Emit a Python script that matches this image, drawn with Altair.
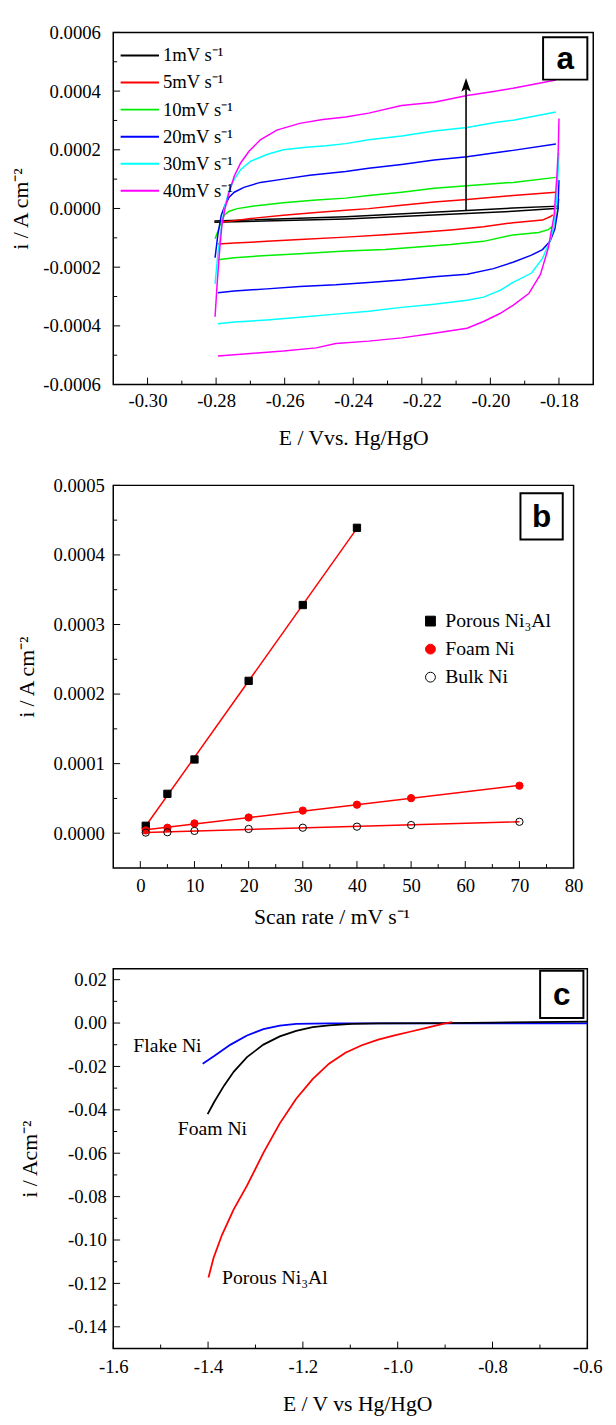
import altair as alt
import pandas as pd

FONT = "Liberation Serif"
MINUS = "\u2212"

# ---------------- Panel a : cyclic voltammograms ----------------
rates = ["1mV s⁻¹", "5mV s⁻¹", "10mV s⁻¹", "20mV s⁻¹", "30mV s⁻¹", "40mV s⁻¹"]
rate_colors = ["#000000", "#FF0000", "#00EE00", "#0000FF", "#00FFFF", "#FF00FF"]

cv1_up_E = [-0.2805, -0.2422, -0.1934, -0.1800]
cv1_up_i = [-0.0000429, -0.0000282, 0.0000017, 0.0000080]
cv1_dn_E = [-0.1800, -0.1934, -0.2422, -0.2805]
cv1_dn_i = [0.0000010, -0.0000095, -0.0000360, -0.0000470]

cv5_up_E = [-0.2785, -0.2699, -0.2604, -0.2508, -0.2422, -0.2355, -0.2259, -0.2164, -0.2068, -0.1934, -0.1809]
cv5_up_i = [-0.0000473, -0.0000340, -0.0000228, -0.0000139, -0.0000060, -0.0000005, 0.0000107, 0.0000219,
            0.0000308, 0.0000442, 0.0000554]
cv5_dn_E = [-0.1818, -0.1826, -0.1848, -0.1934, -0.2020, -0.2116, -0.2212, -0.2307, -0.2422, -0.2556, -0.2652,
            -0.2747, -0.2795]
cv5_dn_i = [-0.0000220, -0.0000283, -0.0000396, -0.0000485, -0.0000619, -0.0000730, -0.0000819, -0.0000898,
            -0.0000976, -0.000106, -0.000112, -0.000118, -0.000121]

cv10_up_E = [-0.2803, -0.2795, -0.2785, -0.2776, -0.2762, -0.2738, -0.2690, -0.2604, -0.2508, -0.2422, -0.2355,
             -0.2259, -0.2164, -0.2068, -0.1934, -0.1809]
cv10_up_i = [-0.000103, -0.0000786, -0.0000451, -0.0000228, -0.0000094, -0.0000005, 0.0000085, 0.0000196,
             0.0000286, 0.0000353, 0.0000442, 0.0000554, 0.0000688, 0.0000777, 0.0000889, 0.000106]
cv10_dn_E = [-0.1800, -0.1806, -0.1814, -0.1831, -0.1859, -0.1934, -0.2020, -0.2116, -0.2212, -0.2307, -0.2422,
             -0.2556, -0.2652, -0.2747, -0.2795]
cv10_dn_i = [0.0000324, -0.0000236, -0.0000564, -0.0000720, -0.0000820, -0.0000900, -0.000112, -0.000123,
             -0.000131, -0.000140, -0.000145, -0.000154, -0.000160, -0.000168, -0.000175]

cv20_up_E = [-0.2803, -0.2795, -0.2785, -0.2774, -0.2762, -0.2747, -0.2719, -0.2671, -0.2604, -0.2527, -0.2422,
             -0.2355, -0.2259, -0.2164, -0.2068, -0.1991, -0.1934, -0.1809]
cv20_up_i = [-0.000168, -0.0000898, -0.0000228, 0.0000106, 0.0000386, 0.0000554, 0.0000721, 0.0000889, 0.000100,
             0.000113, 0.000126, 0.000137, 0.000150, 0.000165, 0.000176, 0.000189, 0.000198, 0.000220]
cv20_dn_E = [-0.1800, -0.1803, -0.1812, -0.1826, -0.1848, -0.1882, -0.1934, -0.1991, -0.2068, -0.2164, -0.2259,
             -0.2355, -0.2451, -0.2556, -0.2652, -0.2747, -0.2795]
cv20_dn_i = [0.0000966, -0.0000050, -0.0000700, -0.000112, -0.000140, -0.000160, -0.000183, -0.000205, -0.000224,
             -0.000233, -0.000244, -0.000252, -0.000260, -0.000266, -0.000274, -0.000281, -0.000287]

cv30_up_E = [-0.2803, -0.2795, -0.2785, -0.2776, -0.2764, -0.2747, -0.2728, -0.2699, -0.2652, -0.2604, -0.2537,
             -0.2479, -0.2422, -0.2355, -0.2259, -0.2164, -0.2068, -0.1991, -0.1934, -0.1809]
cv30_up_i = [-0.000257, -0.000157, -0.0000674, 0.0000000, 0.0000554, 0.000100, 0.000133, 0.000161, 0.000184,
             0.000200, 0.000209, 0.000214, 0.000221, 0.000234, 0.000247, 0.000264, 0.000276, 0.000292, 0.000301,
             0.000329]
cv30_dn_E = [-0.1800, -0.1806, -0.1814, -0.1826, -0.1848, -0.1880, -0.1934, -0.1972, -0.2020, -0.2068, -0.2164,
             -0.2259, -0.2355, -0.2451, -0.2556, -0.2652, -0.2747, -0.2795]
cv30_dn_i = [0.000191, 0.000044, -0.000056, -0.000111, -0.000170, -0.000220, -0.000252, -0.000279, -0.000302,
             -0.000313, -0.000326, -0.000337, -0.000350, -0.000360, -0.000371, -0.000380, -0.000387, -0.000393]

cv40_up_E = [-0.2803, -0.2797, -0.2790, -0.2783, -0.2774, -0.2762, -0.2747, -0.2728, -0.2704, -0.2671, -0.2623,
             -0.2556, -0.2489, -0.2422, -0.2355, -0.2259, -0.2164, -0.2068, -0.1991, -0.1934, -0.1809]
cv40_up_i = [-0.000369, -0.000257, -0.000146, -0.0000563, 0.0000000, 0.0000554, 0.000111, 0.000156, 0.000195,
             0.000234, 0.000267, 0.000290, 0.000303, 0.000312, 0.000325, 0.000351, 0.000362, 0.000385, 0.000399,
             0.000410, 0.000438]
cv40_dn_E = [-0.1800, -0.1802, -0.1806, -0.1814, -0.1831, -0.1854, -0.1888, -0.1934, -0.1972, -0.2020, -0.2068,
             -0.2164, -0.2259, -0.2355, -0.2451, -0.2508, -0.2604, -0.2699, -0.2795]
cv40_dn_i = [0.000307, 0.000200, 0.000111, -0.000023, -0.000134, -0.000225, -0.000290, -0.000330, -0.000358,
             -0.000385, -0.000408, -0.000425, -0.000441, -0.000452, -0.000460, -0.000475, -0.000486, -0.000494,
             -0.000503]

cv_sets = [
    (cv1_up_E, cv1_up_i, cv1_dn_E, cv1_dn_i),
    (cv5_up_E, cv5_up_i, cv5_dn_E, cv5_dn_i),
    (cv10_up_E, cv10_up_i, cv10_dn_E, cv10_dn_i),
    (cv20_up_E, cv20_up_i, cv20_dn_E, cv20_dn_i),
    (cv30_up_E, cv30_up_i, cv30_dn_E, cv30_dn_i),
    (cv40_up_E, cv40_up_i, cv40_dn_E, cv40_dn_i),
]
arrow_E = [-0.2071]
arrow_i_start = [-0.0000060]
arrow_i_head = [0.000415]

a_xticks = [-0.30, -0.28, -0.26, -0.24, -0.22, -0.20, -0.18]
a_xminor = [-0.29, -0.27, -0.25, -0.23, -0.21, -0.19]
a_yticks = [-0.0006, -0.0004, -0.0002, 0.0, 0.0002, 0.0004, 0.0006]
a_yminor = [-0.0005, -0.0003, -0.0001, 0.0001, 0.0003, 0.0005]

# ---------------- Panel b : current vs scan rate ----------------
materials = ["Porous Ni₃Al", "Foam Ni", "Bulk Ni"]
scan_porous = [1, 5, 10, 20, 30, 40]
i_porous = [1.07e-5, 5.66e-5, 1.06e-4, 2.19e-4, 3.28e-4, 4.39e-4]
scan_foam = [1, 5, 10, 20, 30, 40, 50, 70]
i_foam = [4.0e-6, 7.9e-6, 1.41e-5, 2.26e-5, 3.25e-5, 4.10e-5, 5.04e-5, 6.83e-5]
scan_bulk = [1, 5, 10, 20, 30, 40, 50, 70]
i_bulk = [0.9e-6, 1.4e-6, 3.3e-6, 6.1e-6, 7.9e-6, 9.4e-6, 1.17e-5, 1.64e-5]

b_xticks = [0, 10, 20, 30, 40, 50, 60, 70, 80]
b_xminor = [5, 15, 25, 35, 45, 55, 65, 75]
b_yticks = [0.0, 0.0001, 0.0002, 0.0003, 0.0004, 0.0005]
b_yminor = [0.00005, 0.00015, 0.00025, 0.00035, 0.00045]

# ---------------- Panel c : polarization curves ----------------
flake_E = [-1.4113, -1.3871, -1.3525, -1.3179, -1.2833, -1.2487, -1.2141, -1.1449, -1.0, -0.8, -0.6]
flake_i = [-0.01871, -0.01523, -0.00994, -0.00571, -0.00284, -0.00118, -0.00042, -0.00012, -0.0001, -0.0002,
           -0.0002]
foam_E = [-1.4009, -1.3871, -1.3663, -1.3456, -1.3179, -1.2833, -1.2487, -1.2141, -1.1795, -1.1449, -1.0965,
          -1.0411, -0.9, -0.8, -0.6]
foam_i = [-0.04200, -0.03640, -0.02884, -0.02235, -0.01569, -0.00994, -0.00616, -0.00359, -0.00193, -0.00102,
          -0.00042, -0.00012, 0.0, 0.0002, 0.0007]
porous_E = [-1.3991, -1.3885, -1.3707, -1.3462, -1.3179, -1.2833, -1.2487, -1.2141, -1.1795, -1.1449, -1.1103,
            -1.0757, -1.0411, -1.0065, -0.9719, -0.9373, -0.9027, -0.885]
porous_i = [-0.1173, -0.1083, -0.0977, -0.0860, -0.07496, -0.05983, -0.04624, -0.03489, -0.02582, -0.01871,
            -0.01372, -0.01024, -0.00767, -0.00571, -0.00390, -0.00209, -0.00027, 0.0004]
c_series = ["Flake Ni", "Foam Ni", "Porous Ni₃Al"]
c_colors = ["#0000FF", "#000000", "#FF0000"]
c_label_text = ["Flake Ni", "Foam Ni", "Porous Ni₃Al"]
c_label_E = [-1.5577, -1.464, -1.3707]
c_label_i = [-0.01085, -0.049, -0.1176]

c_xticks = [-1.6, -1.4, -1.2, -1.0, -0.8, -0.6]
c_xminor = [-1.5, -1.3, -1.1, -0.9, -0.7]
c_yticks = [-0.14, -0.12, -0.10, -0.08, -0.06, -0.04, -0.02, 0.0, 0.02]
c_yminor = [-0.13, -0.11, -0.09, -0.07, -0.05, -0.03, -0.01, 0.01]


# ---------------- helpers ----------------
def lab_expr(fmt):
    return f"replace(format(datum.value, '{fmt}'), '{MINUS}', '-')"


def x_axis(title, values, fmt, label_pad, title_pad, title_x):
    return alt.Axis(title=title, values=values, labelExpr=lab_expr(fmt), ticks=False, tickSize=0,
                    domain=False, grid=False, labelPadding=label_pad, labelFlush=False,
                    minExtent=30, maxExtent=30, titlePadding=title_pad, titleX=title_x,
                    titleAlign="center", titleAnchor="start",
                    labelFont=FONT, labelFontSize=19, labelColor="black",
                    titleFont=FONT, titleFontSize=22, titleFontWeight="normal", titleColor="black")


def y_axis(title, values, fmt, label_pad, extent, title_pad):
    return alt.Axis(title=title, values=values, labelExpr=lab_expr(fmt), ticks=False, tickSize=0,
                    domain=False, grid=False, labelPadding=label_pad, labelFlush=False,
                    minExtent=extent, maxExtent=extent, titlePadding=title_pad,
                    labelFont=FONT, labelFontSize=19, labelColor="black",
                    titleFont=FONT, titleFontSize=22, titleFontWeight="normal", titleColor="black")


def tick_layers(xmaj, xmin, ymaj, ymin, xsc, ysc, xax, yax, H):
    out = []
    for vals, L in ((xmaj, 7), (xmin, 4)):
        out.append(alt.Chart(pd.DataFrame({"t": vals})).mark_rule(color="black", strokeWidth=1).encode(
            x=alt.X("t:Q", scale=xsc, axis=xax), y=alt.value(H), y2=alt.value(H - L)))
    for vals, L in ((ymaj, 7), (ymin, 4)):
        out.append(alt.Chart(pd.DataFrame({"t": vals})).mark_rule(color="black", strokeWidth=1).encode(
            y=alt.Y("t:Q", scale=ysc, axis=yax), x=alt.value(0), x2=alt.value(L)))
    return out


def letter_box(letter, x0, x1, y0, y1):
    d = pd.DataFrame({"k": [letter]})
    box = alt.Chart(d).mark_rect(fill="white", stroke="black", strokeWidth=2).encode(
        x=alt.value(x0), x2=alt.value(x1), y=alt.value(y0), y2=alt.value(y1))
    txt = alt.Chart(d).mark_text(font="Liberation Sans", fontWeight="bold", fontSize=32,
                                 align="center", baseline="middle", color="black").encode(
        text="k:N", x=alt.value((x0 + x1) / 2), y=alt.value((y0 + y1) / 2 + 1))
    return [box, txt]


# ---------------- build panel a ----------------
WA, HA = 488, 358
xs_a = alt.Scale(domain=[-0.31, -0.17], nice=False, zero=False)
ys_a = alt.Scale(domain=[-0.0006, 0.0006], nice=False, zero=False)
xax_a = x_axis("E / Vvs. Hg/HgO", a_xticks, ".2f", 7, 14, 244)
yax_a = y_axis("i / A cm⁻²", a_yticks, ".4f", 13, 72, 10)
rows = []
for r, (ue, ui, de, di) in zip(rates, cv_sets):
    for k, (e, i) in enumerate(zip(ue, ui)):
        rows.append({"rate": r, "seg": r + "_up", "ord": k, "E": e, "i": i})
    for k, (e, i) in enumerate(zip(de, di)):
        rows.append({"rate": r, "seg": r + "_dn", "ord": k, "E": e, "i": i})
df_a = pd.DataFrame(rows)

lines_a = alt.Chart(df_a).mark_line(strokeWidth=1.5).encode(
    x=alt.X("E:Q", scale=xs_a, axis=xax_a),
    y=alt.Y("i:Q", scale=ys_a, axis=yax_a),
    color=alt.Color("rate:N", scale=alt.Scale(domain=rates, range=rate_colors),
                    legend=alt.Legend(orient="none", legendX=6.5, legendY=14, title=None, padding=0,
                                      symbolType="stroke", symbolSize=1521, symbolStrokeWidth=2,
                                      clipHeight=19, rowPadding=7.5, labelOffset=3,
                                      labelFont=FONT, labelFontSize=19, labelColor="black")),
    detail="seg:N", order="ord:Q")

df_arrow = pd.DataFrame({"E": arrow_E, "i0": arrow_i_start, "i1": arrow_i_head})
arrow_line = alt.Chart(df_arrow).mark_rule(color="black", strokeWidth=1.6).encode(
    x=alt.X("E:Q", scale=xs_a, axis=xax_a), y=alt.Y("i0:Q", scale=ys_a, axis=yax_a), y2="i1:Q")
arrow_head = alt.Chart(df_arrow).mark_point(shape="M0,-1L0.55,0.6L0,0.25L-0.55,0.6Z", filled=True,
                                            size=306, color="black", opacity=1).encode(
    x=alt.X("E:Q", scale=xs_a, axis=xax_a), y=alt.Y("i1:Q", scale=ys_a, axis=yax_a))

panel_a = alt.layer(
    lines_a,
    *tick_layers(a_xticks, a_xminor, a_yticks, a_yminor, xs_a, ys_a, xax_a, yax_a, HA),
    arrow_line, arrow_head, *letter_box("a", 437, 482, 5, 48)
).properties(width=WA, height=HA)

# ---------------- build panel b ----------------
WB, HB = 468, 389
xs_b = alt.Scale(domain=[-5, 80], nice=False, zero=False)
ys_b = alt.Scale(domain=[-0.00005, 0.0005], nice=False, zero=False)
xax_b = x_axis("Scan rate / mV s⁻¹", b_xticks, "d", 9, 9, 222)
yax_b = y_axis("i / A cm⁻²", b_yticks, ".4f", 9, 61, 15)
rows = []
for m, xs, ys in zip(materials, [scan_porous, scan_foam, scan_bulk], [i_porous, i_foam, i_bulk]):
    for x, y in zip(xs, ys):
        rows.append({"mat": m, "rate": x, "i": y})
df_b = pd.DataFrame(rows)

leg_b = alt.Legend(orient="none", legendX=312.5, legendY=128, title=None, padding=0,
                   symbolStrokeWidth=1, rowPadding=8.5, labelOffset=5,
                   labelFont=FONT, labelFontSize=20, labelColor="black")
fit_b = alt.Chart(df_b).transform_regression("rate", "i", groupby=["mat"]).mark_line(
    color="#FF0000", strokeWidth=1.5).encode(
    x=alt.X("rate:Q", scale=xs_b, axis=xax_b),
    y=alt.Y("i:Q", scale=ys_b, axis=yax_b),
    detail="mat:N")
pts_b = alt.Chart(df_b).mark_point(filled=True, size=55, opacity=1, strokeWidth=1).encode(
    x=alt.X("rate:Q", scale=xs_b, axis=xax_b),
    y=alt.Y("i:Q", scale=ys_b, axis=yax_b),
    shape=alt.Shape("mat:N", scale=alt.Scale(domain=materials, range=["square", "circle", "circle"]),
                    legend=leg_b),
    fill=alt.Fill("mat:N", scale=alt.Scale(domain=materials, range=["#000000", "#FF0000", "transparent"]),
                  legend=leg_b),
    stroke=alt.Stroke("mat:N", scale=alt.Scale(domain=materials, range=["#000000", "#FF0000", "#000000"]),
                      legend=leg_b))

panel_b = alt.layer(
    fit_b, pts_b,
    *tick_layers(b_xticks, b_xminor, b_yticks, b_yminor, xs_b, ys_b, xax_b, yax_b, HB),
    *letter_box("b", 414, 457, 8, 55)
).properties(width=WB, height=HB)

# ---------------- build panel c ----------------
WC, HC = 482, 386
xs_c = alt.Scale(domain=[-1.6, -0.6], nice=False, zero=False)
ys_c = alt.Scale(domain=[-0.15, 0.025], nice=False, zero=False)
xax_c = x_axis("E / V vs Hg/HgO", c_xticks, ".1f", 9, 16, 248)
yax_c = y_axis("i / Acm⁻²", c_yticks, ".2f", 7, 47, 26)
rows = []
for s, es, iis in zip(c_series, [flake_E, foam_E, porous_E], [flake_i, foam_i, porous_i]):
    for k, (e, i) in enumerate(zip(es, iis)):
        rows.append({"s": s, "ord": k, "E": e, "i": i})
df_c = pd.DataFrame(rows)

lines_c = alt.Chart(df_c).mark_line(strokeWidth=1.8).encode(
    x=alt.X("E:Q", scale=xs_c, axis=xax_c),
    y=alt.Y("i:Q", scale=ys_c, axis=yax_c),
    color=alt.Color("s:N", scale=alt.Scale(domain=c_series, range=c_colors), legend=None),
    order="ord:Q")
df_clab = pd.DataFrame({"t": c_label_text, "E": c_label_E, "i": c_label_i})
labels_c = alt.Chart(df_clab).mark_text(align="left", baseline="middle", font=FONT, fontSize=20,
                                        color="black").encode(
    x=alt.X("E:Q", scale=xs_c, axis=xax_c), y=alt.Y("i:Q", scale=ys_c, axis=yax_c), text="t:N")

panel_c = alt.layer(
    lines_c, labels_c,
    *tick_layers(c_xticks, c_xminor, c_yticks, c_yminor, xs_c, ys_c, xax_c, yax_c, HC),
    *letter_box("c", 434, 478, 2, 50)
).properties(width=WC, height=HC)

chart = alt.vconcat(panel_a, panel_b, panel_c, spacing=102.5, bounds="flush").resolve_scale(
    color="independent", shape="independent", fill="independent", stroke="independent"
).resolve_legend(
    color="independent", shape="independent", fill="independent", stroke="independent"
).properties(
    padding={"left": 1, "top": 3, "right": 5, "bottom": 0}
).configure(font=FONT).configure_axis(
    labelFont=FONT, titleFont=FONT
).configure_legend(labelFont=FONT, labelLimit=300).configure_view(stroke="black", strokeWidth=1.5)

chart.save("out.html", embed_options={"renderer": "svg", "actions": False})
